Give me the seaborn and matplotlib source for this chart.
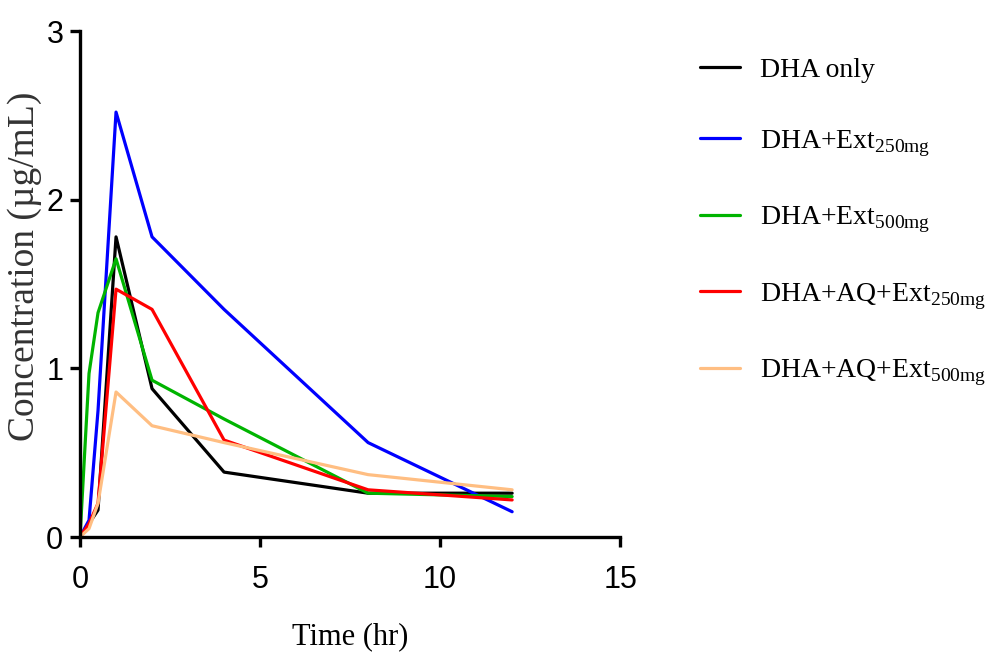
import numpy as np
import pandas as pd
import matplotlib
matplotlib.use("Agg")
import matplotlib.pyplot as plt
import seaborn as sns

# Data
time_hr = [0, 0.25, 0.5, 1, 2, 4, 8, 12]
dha_only = [0, 0.08, 0.16, 1.78, 0.88, 0.385, 0.26, 0.26]
dha_ext250 = [0, 0.10, 0.75, 2.52, 1.78, 1.35, 0.56, 0.15]
dha_ext500 = [0, 0.97, 1.33, 1.65, 0.93, 0.70, 0.26, 0.24]
dha_aq_ext250 = [0, 0.08, 0.20, 1.47, 1.35, 0.575, 0.28, 0.22]
dha_aq_ext500 = [0, 0.05, 0.20, 0.86, 0.66, 0.56, 0.37, 0.28]

labels = ["DHA only",
          r"DHA+Ext$_{\mathregular{250mg}}$",
          r"DHA+Ext$_{\mathregular{500mg}}$",
          r"DHA+AQ+Ext$_{\mathregular{250mg}}$",
          r"DHA+AQ+Ext$_{\mathregular{500mg}}$"]
colors = ["#000000", "#0000FF", "#00B400", "#FF0000", "#FFBE82"]
series = [dha_only, dha_ext250, dha_ext500, dha_aq_ext250, dha_aq_ext500]

sns.set_style("ticks")
serif = "Liberation Serif"
plt.rcParams["font.family"] = [serif, "DejaVu Serif"]
plt.rcParams["mathtext.fontset"] = "custom"
plt.rcParams["mathtext.rm"] = serif

fig = plt.figure(figsize=(10.04, 6.57), dpi=100)
ax = fig.add_axes([0.0797, 0.1826, 0.538, 0.770])

for vals, lab, col in zip(series, labels, colors):
    sns.lineplot(x=time_hr, y=vals, color=col, label=lab, linewidth=2.3,
                 sort=False, ax=ax)

ax.set_xlim(0, 15)
ax.set_ylim(0, 3)
ax.set_xticks([0, 5, 10, 15])
ax.set_yticks([0, 1, 2, 3])
for s in ["top", "right"]:
    ax.spines[s].set_visible(False)
for s in ["left", "bottom"]:
    ax.spines[s].set_linewidth(2.4)
    ax.spines[s].set_color("black")
ax.tick_params(width=2.4, length=7, direction="out", color="black",
               labelcolor="black")
ax.tick_params(axis="x", pad=13)
ax.tick_params(axis="y", pad=5)
for t in ax.get_xticklabels() + ax.get_yticklabels():
    t.set_fontfamily("Liberation Sans")
    t.set_fontsize(22)

ax.set_xlabel("Time (hr)", fontsize=22, fontfamily=serif, labelpad=20,
              color="black")
ax.set_ylabel("Concentration (µg/mL)", fontsize=27, fontfamily=serif,
              color="#333333")
ax.yaxis.set_label_coords(-0.07, 0.535)

handles, labs = ax.get_legend_handles_labels()
ax.get_legend().remove()
leg = fig.legend(handles, labs, loc="upper left", bbox_to_anchor=(0.686, 0.93),
                 borderaxespad=0, frameon=False, fontsize=20, handlelength=1.45,
                 handletextpad=0.72, labelspacing=1.65)
for t in leg.get_texts():
    t.set_color("black")

fig.savefig("out.png", dpi=100)
